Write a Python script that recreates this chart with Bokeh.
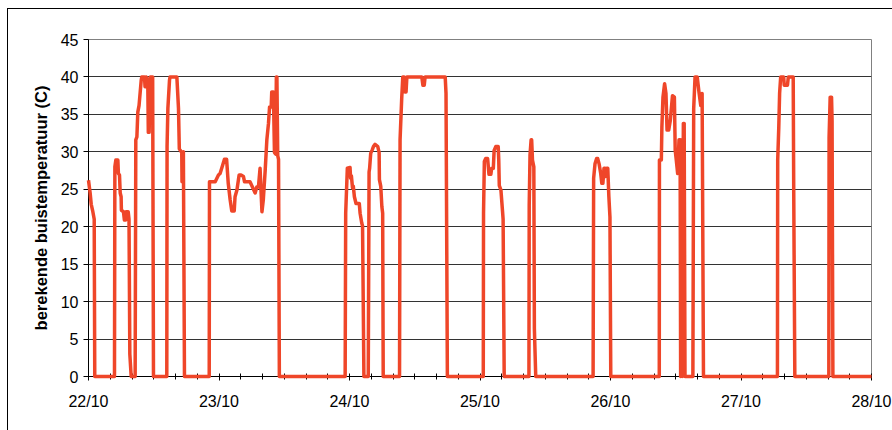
from bokeh.plotting import figure
from bokeh.models import Range1d, FixedTicker, ColumnDataSource
from bokeh.embed import file_html
from bokeh.resources import INLINE

# time in hours since 22/10 00:00, temperature in C
hours = [
    0, 0.3, 0.5, 0.8, 1.05, 1.15,
    4.78, 4.85, 5.03, 5.4, 5.5, 5.7, 5.83, 6.0, 6.05, 6.43, 6.6, 6.85, 6.9, 7.3, 7.45, 7.6, 7.85,
    8.58, 8.7, 8.9, 9.07, 9.3, 9.7, 9.8, 10.3, 10.4, 10.6, 10.9, 11.0, 11.15, 11.35, 11.8, 11.95,
    14.4, 14.45, 14.6, 14.9, 15.0, 16.25, 16.55, 16.7, 17.15, 17.2, 17.45, 17.65,
    22.2, 22.25, 23.3, 23.9, 24.2, 24.5, 25.0, 25.4, 25.7, 26.05, 26.35, 26.8, 26.95, 27.3, 27.7,
    28.05, 28.5, 28.7, 29.7, 30.15, 30.65, 30.95, 31.25, 31.55, 31.9, 32.15, 32.5, 32.8, 33.1,
    33.3, 33.6, 33.7, 34.0, 34.2, 34.4, 34.55, 34.65, 34.8, 34.95, 35.1,
    47.2, 47.3, 47.6, 48.1, 48.2, 48.35, 48.55, 48.7, 48.9, 49.2, 49.8, 49.95, 50.25, 50.4, 50.65,
    51.45, 51.6, 51.7, 51.9, 52.2, 52.4, 52.7, 53.2, 53.45, 53.5, 53.75, 53.95, 54.1, 54.2,
    57.2, 57.3, 57.6, 57.8, 58.05, 58.2, 58.4, 58.55, 61.3, 61.5, 61.75, 61.9, 65.6, 65.75, 66.0,
    72.6, 72.65, 72.8, 73.05, 73.4, 73.65, 74.0, 74.15, 74.45, 74.6, 74.9, 75.35, 75.45, 75.55,
    75.85, 76.15, 76.25, 76.45,
    81.0, 81.05, 81.2, 81.4, 81.5, 81.65, 81.9, 82.0, 82.25,
    92.8, 92.9, 93.15, 93.45, 93.65, 93.9, 94.2, 94.4, 94.6, 94.8, 95.0, 95.1, 95.3, 95.5, 95.7,
    95.9, 96.05,
    104.97, 105.0, 105.35, 105.45, 105.65, 105.95, 106.2, 106.4, 106.7, 107.0, 107.4, 107.75,
    107.9, 108.1, 108.35, 108.6, 108.8, 108.9, 109.1, 109.2, 109.4, 109.55, 109.7,
    111.15, 111.3, 111.55, 111.95, 112.3, 112.6, 112.8, 112.85, 113.1,
    126.7, 126.75, 126.95, 127.1, 127.3, 127.85, 127.95, 128.55, 128.7, 129.6, 129.7, 129.9,
    136.15, 136.2, 136.4, 136.65, 136.75, 136.9,
    144,
]
temps = [
    26.2, 24.5, 23, 22, 21, 0,
    0, 28, 28.9, 28.9, 27.1, 26.9, 24.5, 24, 22.2, 22, 20.9, 20.9, 22, 22, 21, 3, 0,
    0, 31.6, 32, 35.3, 36.2, 39.6, 40, 40, 38.7, 40, 39.5, 32.6, 32.6, 40, 40, 0,
    0, 30.7, 35.8, 39.6, 40, 40, 35.8, 30.4, 29.9, 26, 30, 0,
    0, 26, 26, 26.9, 27.1, 27.8, 29, 29, 25.8, 23.6, 22.1, 22.1, 24, 24.9, 26.9,
    26.9, 26.7, 26, 26, 25.3, 24.5, 25.3, 25.3, 27.8, 22, 23.6, 27.6, 31.6, 33.8,
    36, 36, 38, 38, 29.9, 29.7, 40, 40, 29.5, 29, 0,
    0, 21.8, 27.8, 27.9, 26.5, 26.8, 25.2, 25.4, 24, 23.1, 23.1, 21.8, 20.5, 20.1, 0,
    0, 27.3, 27.8, 29.8, 30.3, 30.7, 31, 30.7, 29.9, 26.3, 25.4, 22.7, 21.8, 0,
    0, 31.6, 37.1, 40, 40, 38, 38, 40, 40, 38.9, 38.9, 40, 40, 37.8, 0,
    0, 21.8, 28.7, 29.1, 29.1, 27, 27, 27.8, 27.8, 30.2, 30.7, 30.7, 28.9, 25.5,
    24.9, 22, 21, 0,
    0, 22.8, 29.6, 31.6, 31.6, 28.9, 28, 6.4, 0,
    0, 26.5, 28.4, 29.1, 29.1, 28.4, 27.1, 25.8, 25.8, 27.8, 27.8, 26.7, 27.8, 27.8, 24,
    21.3, 0,
    0, 28.9, 28.9, 33.3, 37.3, 39.1, 37.8, 32.9, 32.9, 34.2, 37.5, 37.3,
    30.2, 28.9, 27.1, 31.6, 31.6, 0, 31.6, 0, 33.8, 33.8, 0,
    0, 35.8, 40, 40, 37.8, 36.2, 37.8, 37.8, 0,
    0, 28.9, 33.3, 37.8, 40, 40, 38.9, 38.9, 40, 40, 24.5, 0,
    0, 31.9, 37.3, 37.3, 34.2, 0,
    0,
]

day_labels = ["22/10", "23/10", "24/10", "25/10", "26/10", "27/10", "28/10"]
y_ticks = [0, 5, 10, 15, 20, 25, 30, 35, 40, 45]
y_title = "berekende buistemperatuur (C)"

FONT = "Liberation Sans"
LINE_COLOR = "#EF4629"

p = figure(
    frame_width=783, frame_height=337,
    min_border_left=80, min_border_top=30, min_border_right=21, min_border_bottom=54,
    x_range=Range1d(0, 144), y_range=Range1d(0, 45),
    output_backend="svg", toolbar_location=None,
    background_fill_color="white", border_fill_color="white",
)
p.styles = {"border-left": "1px solid black", "border-top": "1px solid black",
            "margin-left": "7px", "margin-top": "8px"}

src = ColumnDataSource(dict(t=hours, v=temps))
p.line("t", "v", source=src, line_color=LINE_COLOR, line_width=3.5, line_join="round",
       level="overlay")

day_ticks = [i * 24 for i in range(len(day_labels))]
minor = [i * 4 for i in range(int(144 / 4) + 1)]
p.xaxis.ticker = FixedTicker(ticks=day_ticks, minor_ticks=minor)
p.xaxis.major_label_overrides = {t: l for t, l in zip(day_ticks, day_labels)}
p.xaxis.major_tick_in = 2
p.xaxis.major_tick_out = 4
p.xaxis.minor_tick_in = 3
p.xaxis.minor_tick_out = 3
p.xaxis.major_label_standoff = 12
p.xaxis.axis_line_color = "black"
p.xaxis.major_tick_line_color = "black"
p.xaxis.minor_tick_line_color = "black"

p.yaxis.ticker = FixedTicker(ticks=y_ticks, minor_ticks=[])
p.yaxis.major_tick_in = 0
p.yaxis.major_tick_out = 5
p.yaxis.major_label_standoff = 5
p.yaxis.axis_label = y_title
p.yaxis.axis_label_text_font_style = "bold"
p.yaxis.axis_label_standoff = 8

for ax in (p.xaxis, p.yaxis):
    ax.major_label_text_font = FONT
    ax.major_label_text_font_size = "16px"
    ax.major_label_text_color = "black"
    ax.axis_label_text_font = FONT
    ax.axis_label_text_font_size = "16.5px"
    ax.axis_label_text_color = "black"

p.xgrid.grid_line_color = None
p.ygrid.grid_line_color = "#333333"
p.ygrid.grid_line_width = 1
p.outline_line_color = "#808080"

open("out.html", "w").write(file_html(p, INLINE))
